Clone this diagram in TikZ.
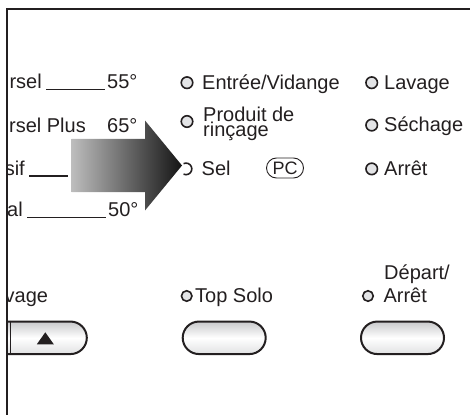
\documentclass[tikz,border=0pt]{standalone}
\usepackage{fontspec}
\setmainfont{Liberation Sans}
\usetikzlibrary{positioning, shapes.misc}
\definecolor{Ink}{HTML}{231F20}
\definecolor{LedGrey}{HTML}{E3E4E6}
\definecolor{KeyGrey}{HTML}{C8C9CB}
\begin{document}
\begin{tikzpicture}[x=1pt, y=-1pt,
  lbl/.style={inner sep=0pt, text=Ink, font=\fontsize{20}{15.2}\selectfont},
  led/.style={circle, draw=Ink, line width=1.6pt, fill=LedGrey,
     minimum size=11.5pt, inner sep=0pt},
  rule/.style={draw=Ink, line width=1.3pt},
  key/.style={rounded rectangle, draw=Ink, line width=2pt,
     minimum width=83pt, minimum height=32.5pt, inner sep=0pt,
     top color=KeyGrey, bottom color=KeyGrey!55, middle color=white},
  pcbox/.style={rounded rectangle, draw=Ink, line width=0.9pt,
     minimum width=37pt, minimum height=20pt, inner sep=0pt, text=Ink,
     font=\fontsize{18}{18}\selectfont},
  frame/.style={draw=Ink, line width=2.5pt}]
  \useasboundingbox (0,0) rectangle (470,414);

  \begin{scope}
    \clip (8,0) rectangle (470,414);
    \node[lbl, anchor=base east] (uni) at (42,88.3) {rsel};
    \node[lbl, anchor=base west] (uniT) at (107,88.3) {55°};
    \node[lbl, anchor=base east] (uniPlus) at (86,132.7) {rsel Plus};
    \node[lbl, anchor=base west] (uniPlusT) at (107,132.7) {65°};
    \node[lbl, anchor=base east] (sif) at (25,175) {sif};
    \coordinate (sifEnd) at (68,176);
    \node[lbl, anchor=base east] (nal) at (23,216.7) {al};
    \node[lbl, anchor=base west] (nalT) at (108,216.7) {50°};
    \draw[rule] ([xshift=4pt, yshift=-1pt]uni.base east) -- ([xshift=-2pt, yshift=-1pt]uniT.base west);
    \draw[rule] ([xshift=4pt, yshift=-1pt]sif.base east) -- (sifEnd);
    \draw[rule] ([xshift=4pt, yshift=-1pt]nal.base east) -- ([xshift=-2pt, yshift=-1pt]nalT.base west);
    \node[lbl, anchor=base east] (rinse) at (48.3,302.7) {vage};
    \node[key, rounded rectangle left arc=none] (keyUp) at (45.3,337.8) {};
    \draw[Ink, line width=0.8pt] ([xshift=-34.8pt]keyUp.north) -- ([xshift=-34.8pt]keyUp.south);
    \fill[Ink] ([shift={(-8.5pt,-6.5pt)}]keyUp.center) -- ([shift={(8.5pt,-6.5pt)}]keyUp.center)
       -- ([shift={(0pt,5.5pt)}]keyUp.center) -- cycle;
  \end{scope}

  \node[led] (ledFill) at (187,82.7) {};
  \node[led] (ledWash) at (371.7,82.7) {};
  \node[led] (ledRinse) at (187,121.5) {};
  \node[led] (ledDry) at (371.7,125.1) {};
  \node[led] (ledStop) at (371.7,168.9) {};
  \coordinate (ledSalt) at (186,168.9);
  \draw[Ink, line width=1.6pt] ([shift={(-115:5.8)}]ledSalt) arc[start angle=-115, end angle=115, radius=5.8];

  \node[lbl, anchor=base west] (tFill) at (202,89.3) {Entrée/Vidange};
  \node[lbl, anchor=base west] (tWash) at (384,89.3) {Lavage};
  \node[lbl, anchor=base west, align=left] (tRinse) at (203,136.4) {Produit de\\rinçage};
  \node[lbl, anchor=base west] (tDry) at (384,131.7) {Séchage};
  \node[lbl, anchor=base west] (tSalt) at (201.5,175.5) {Sel};
  \node[pcbox] (pc) at (285,168) {PC};
  \node[lbl, anchor=base west] (tStop) at (384,175.5) {Arrêt};

  \shade[left color=black!26, right color=black!92]
    (71.7,138.8) -- (145,138.8) -- (145,120.5) -- (182,165.5)
    -- (145,210.5) -- (145,192.2) -- (71.7,192.2) -- cycle;

  \node[led, minimum size=10.5pt] (ledSolo) at (186.7,296) {};
  \node[led, minimum size=10.5pt] (ledStart) at (368,296) {};
  \node[lbl, anchor=base west] (tSolo) at (195,302.7) {Top Solo};
  \node[lbl, anchor=base west] (tStartA) at (384,279) {Départ/};
  \node[lbl, anchor=base west] (tStartB) at (383.3,302.7) {Arrêt};
  \node[key] (keySolo) at (224.2,337.8) {};
  \node[key] (keyStart) at (402.5,337.8) {};

  \draw[frame] (7,420) -- (7,9) -- (475,9);
\end{tikzpicture}
\end{document}
